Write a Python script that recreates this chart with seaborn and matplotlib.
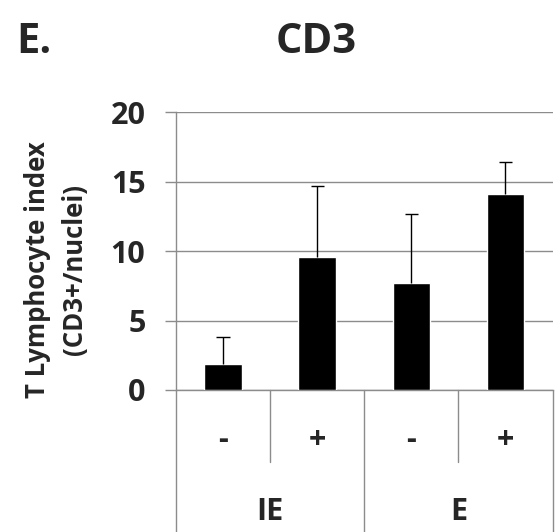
import matplotlib
matplotlib.use("Agg")
import matplotlib.pyplot as plt
import pandas as pd
import seaborn as sns

# values
groups = ["IE", "IE", "E", "E"]
treatment = ["-", "+", "-", "+"]
means = [1.9, 9.6, 7.7, 14.1]
errors = [1.9, 5.1, 5.0, 2.3]
y_ticks = [0, 5, 10, 15, 20]

sns.set_style("white")
plt.rcParams["font.family"] = ["Open Sans", "DejaVu Sans"]
plt.rcParams["font.weight"] = "bold"

grid_color = "#8c8c8c"

df = pd.DataFrame({"slot": [f"{g}{t}" for g, t in zip(groups, treatment)], "mean": means})
df["top"] = df["mean"] + pd.Series(errors)
df["pos"] = range(len(df))

fig = plt.figure(figsize=(5.57, 5.32), dpi=100)
ax = fig.add_axes([0.316, 0.267, 0.676, 0.522])

sns.barplot(data=df, x="slot", y="mean", color="black", saturation=1, width=0.4,
            errorbar=None, ax=ax, zorder=3)
# one sided error bars (upper only, excel style)
cap = 0.07
ax.vlines(df["pos"], df["mean"], df["top"], color="black", lw=1, zorder=4)
ax.hlines(df["top"], df["pos"] - cap, df["pos"] + cap, color="black", lw=1, zorder=4)

# axes look (excel like)
ax.set_ylim(0, 20)
ax.set_xlim(-0.5, len(means) - 0.5)
ax.set_yticks(y_ticks)
ax.set_yticklabels([str(t) for t in y_ticks], fontsize=22, fontweight="bold")
ax.yaxis.grid(True, color=grid_color, lw=1)
ax.set_axisbelow(True)
ax.tick_params(axis="y", direction="out", length=8, width=1, color=grid_color, pad=14, left=True)
ax.set_xticks([])
ax.set_xlabel("")
for side in ["top", "right"]:
    ax.spines[side].set_visible(False)
for side in ["left", "bottom"]:
    ax.spines[side].set_color(grid_color)
    ax.spines[side].set_linewidth(1)

# category table under the axis
trans = ax.get_xaxis_transform()
bottom = -0.267 / 0.522
for x in [0.5, 2.5]:
    ax.plot([x, x], [0, -0.258], transform=trans, clip_on=False, color=grid_color, lw=1)
for x in [-0.5, 1.5, 3.5]:
    ax.plot([x, x], [0, bottom], transform=trans, clip_on=False, color=grid_color, lw=1)
for i, t in enumerate(treatment):
    ax.text(i, -0.18, t, transform=trans, ha="center", va="center", fontsize=22, fontweight="bold")
ax.text(0.5, -0.438, "IE", transform=trans, ha="center", va="center", fontsize=22, fontweight="bold")
ax.text(2.5, -0.438, "E", transform=trans, ha="center", va="center", fontsize=22, fontweight="bold")

ax.set_ylabel("T Lymphocyte index\n(CD3+/nuclei)", fontsize=18.5, fontweight="bold", linespacing=1.45)
ax.yaxis.set_label_coords(-0.234, 0.435)

fig.text(0.567, 0.921, "CD3", fontsize=30, fontweight="bold", ha="center", va="center")
fig.text(0.03, 0.921, "E.", fontsize=30, fontweight="bold", ha="left", va="center")

fig.savefig("out.png", dpi=100)
